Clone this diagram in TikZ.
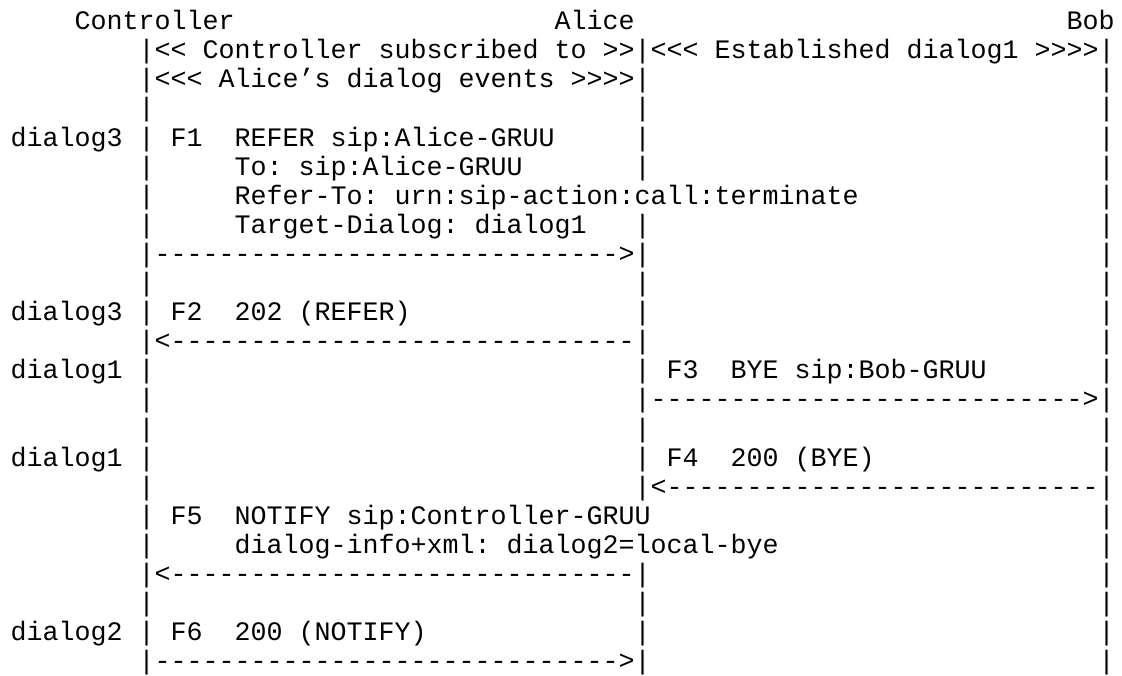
\documentclass[tikz,border=0pt]{standalone}
\usepackage{fontspec}
\setmonofont{Liberation Mono}

% grid of the text: column left edge and row baseline, in px
\newcommand{\colx}[1]{(10.7+16*(#1))}
\newcommand{\rowy}[1]{(29.6+29.1*((#1)-1))}

\tikzset{
  ascii/.style={anchor=base west, inner sep=0pt, outer sep=0pt,
    font=\ttfamily\fontsize{13.33pt}{14pt}\selectfont\frenchspacing},
}

\begin{document}
\begin{tikzpicture}[x=0.5pt, y=-0.5pt]
  \useasboundingbox (0,0) rectangle (1122,675);

  % Parties
  \node[ascii] (ctl) at ({\colx{4}},{\rowy{1}}) {Controller};
  \node[ascii] (alice) at ({\colx{34}},{\rowy{1}}) {Alice};
  \node[ascii] (bob) at ({\colx{66}},{\rowy{1}}) {Bob};

  % Lifelines
  \foreach \r in {2,...,23}
    \node[ascii] (barC-\r) at ({\colx{8}},{\rowy{\r}}) {|};
  \foreach \r in {2,3,4,5,6,8,9,10,11,12,13,14,15,16,17,20,21,22,23}
    \node[ascii] (barA-\r) at ({\colx{39}},{\rowy{\r}}) {|};
  \foreach \r in {2,...,23}
    \node[ascii] (barB-\r) at ({\colx{68}},{\rowy{\r}}) {|};

  % Subscriptions
  \node[ascii] (sub1) at ({\colx{9}},{\rowy{2}}) {<< Controller subscribed to >>};
  \node[ascii] (sub2) at ({\colx{9}},{\rowy{3}}) {<<< Alice’s dialog events >>>>};
  \node[ascii] (est) at ({\colx{40}},{\rowy{2}}) {<<< Established dialog1 >>>>};

  % Dialog labels
  \node[ascii] (dlg-f1) at ({\colx{0}},{\rowy{5}}) {dialog3};
  \node[ascii] (dlg-f2) at ({\colx{0}},{\rowy{11}}) {dialog3};
  \node[ascii] (dlg-f3) at ({\colx{0}},{\rowy{13}}) {dialog1};
  \node[ascii] (dlg-f4) at ({\colx{0}},{\rowy{16}}) {dialog1};
  \node[ascii] (dlg-f6) at ({\colx{0}},{\rowy{22}}) {dialog2};

  % F1
  \node[ascii] (f1) at ({\colx{10}},{\rowy{5}}) {F1};
  \node[ascii] (f1-req) at ({\colx{14}},{\rowy{5}}) {REFER sip:Alice-GRUU};
  \node[ascii] (f1-to) at ({\colx{14}},{\rowy{6}}) {To: sip:Alice-GRUU};
  \node[ascii] (f1-refer) at ({\colx{14}},{\rowy{7}}) {Refer-To: urn:sip-action:call:terminate};
  \node[ascii] (f1-target) at ({\colx{14}},{\rowy{8}}) {Target-Dialog: dialog1};
  \node[ascii] (arr-f1) at ({\colx{9}},{\rowy{9}}) {----------------------------->};

  % F2
  \node[ascii] (f2) at ({\colx{10}},{\rowy{11}}) {F2};
  \node[ascii] (f2-rsp) at ({\colx{14}},{\rowy{11}}) {202 (REFER)};
  \node[ascii] (arr-f2) at ({\colx{9}},{\rowy{12}}) {<-----------------------------};

  % F3
  \node[ascii] (f3) at ({\colx{41}},{\rowy{13}}) {F3};
  \node[ascii] (f3-req) at ({\colx{45}},{\rowy{13}}) {BYE sip:Bob-GRUU};
  \node[ascii] (arr-f3) at ({\colx{40}},{\rowy{14}}) {--------------------------->};

  % F4
  \node[ascii] (f4) at ({\colx{41}},{\rowy{16}}) {F4};
  \node[ascii] (f4-rsp) at ({\colx{45}},{\rowy{16}}) {200 (BYE)};
  \node[ascii] (arr-f4) at ({\colx{40}},{\rowy{17}}) {<---------------------------};

  % F5
  \node[ascii] (f5) at ({\colx{10}},{\rowy{18}}) {F5};
  \node[ascii] (f5-req) at ({\colx{14}},{\rowy{18}}) {NOTIFY sip:Controller-GRUU};
  \node[ascii] (f5-body) at ({\colx{14}},{\rowy{19}}) {dialog-info+xml: dialog2=local-bye};
  \node[ascii] (arr-f5) at ({\colx{9}},{\rowy{20}}) {<-----------------------------};

  % F6
  \node[ascii] (f6) at ({\colx{10}},{\rowy{22}}) {F6};
  \node[ascii] (f6-rsp) at ({\colx{14}},{\rowy{22}}) {200 (NOTIFY)};
  \node[ascii] (arr-f6) at ({\colx{9}},{\rowy{23}}) {----------------------------->};
\end{tikzpicture}
\end{document}
